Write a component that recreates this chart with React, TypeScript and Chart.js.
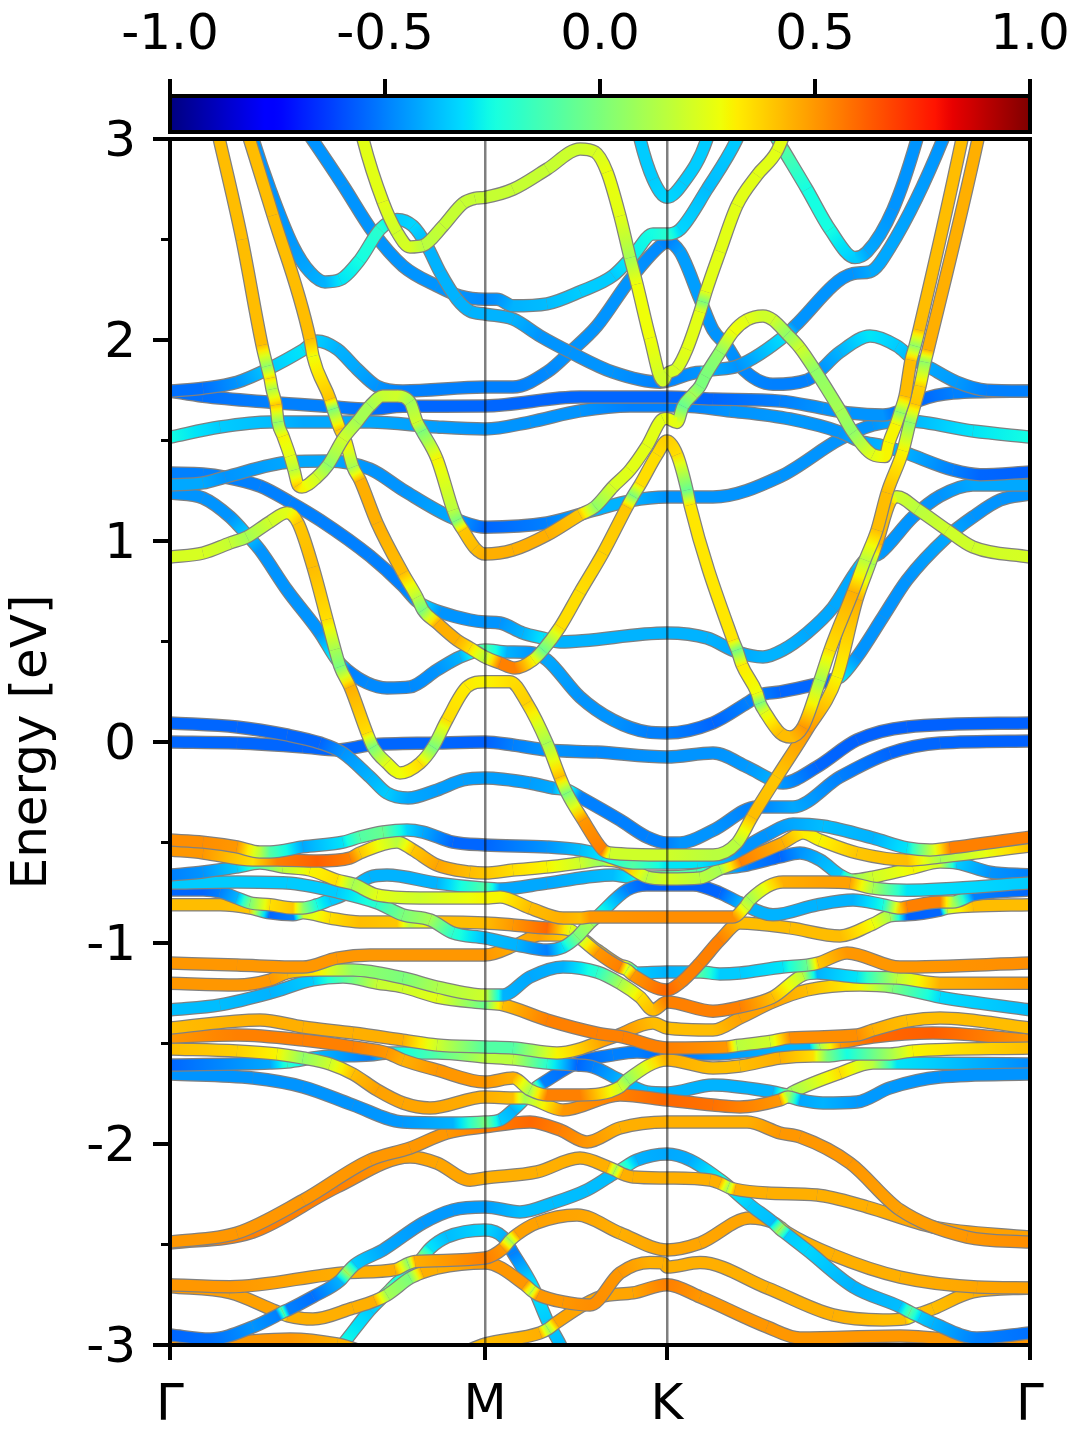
import { useEffect, useRef } from "react";
import { Chart, registerables } from "chart.js";

Chart.register(...registerables);

const FONT = "DejaVu Sans";

// k path coordinate (arbitrary units), high symmetry points
const kTicks = [0, 315, 497, 860];
const kLabels = ["Γ", "M", "K", "Γ"];
const colorbarTicks = [-1, -0.5, 0, 0.5, 1];

// every band is a list of [k, energy in eV, projection]
const bandC1 = [[46,3.07,.42],[72,2.5,.42],[92,1.975,.42],[97,1.87,.05],[100,1.81,.35],[102,1.756,.12],[106,1.677,.4],[108,1.592,.05],[113,1.522,.3],[120,1.423,.25],[124,1.353,.15],[128,1.279,.38],[132,1.269,.3],[147,1.318,.2],[158,1.378,.05],[173,1.507,.2],[187,1.592,.1],[200,1.672,.1],[213,1.721,.18],[227,1.721,.2],[240,1.691,.1],[247,1.592,.2],[252,1.547,0],[267,1.408,.3],[283,1.154,.15],[287,1.104,0],[293,1.055,.4],[305,.965,.42],[315,.935,.45],[343,.955,.45],[377,1.03,.45],[410,1.13,.4],[425,1.17,.05],[443,1.27,.22],[460,1.353,.25],[477,1.473,.25],[493,1.607,.25],[497,1.61,.28],[507,1.59,.25],[513,1.67,-.05],[523,1.73,.1],[530,1.77,0],[535,1.82,0],[550,1.94,.05],[563,2.04,.28],[577,2.1,.25],[593,2.12,.2],[603,2.1,.2],[617,2.03,.05],[630,1.96,.2],[645,1.85,.05],[670,1.65,.1],[683,1.54,.05],[703,1.43,.25],[715,1.42,.3],[719,1.49,.3],[726,1.58,.3],[730,1.64,.05],[735,1.72,.42],[741,1.9,.42],[745,1.97,.05],[749,2.05,.42],[792,3,.42],[796,3.1,.42]];
const bandC2 = [[75,3.07,.42],[103,2.62,.42],[140,2.005,.42],[143,1.92,.28],[160,1.706,.4],[163,1.657,0],[170,1.557,.4],[175,1.507,.35],[183,1.368,.1],[190,1.303,.45],[207,1.09,.45],[233,.84,.42],[247,.72,.15],[253,.657,0],[267,.592,.45],[287,.507,.45],[300,.468,.35],[315,.423,.15],[330,.393,.55],[345,.368,.55],[363,.408,.3],[373,.458,-.05],[390,.572,.35],[410,.746,.35],[433,.94,.38],[457,1.17,.4],[463,1.224,0],[470,1.28,.35],[487,1.43,.35],[497,1.497,.38],[507,1.43,.35],[517,1.254,-.05],[520,1.18,.33],[563,.507,.33],[567,.458,-.02],[572,.383,.32],[587,.244,.28],[590,.194,0],[595,.149,.25],[610,.045,.42],[620,.025,.42],[633,.075,.5],[650,.308,.1],[660,.458,.35],[683,.746,.45],[695,.905,.15],[707,1.055,.42],[717,1.239,.42],[733,1.45,.3],[740,1.59,.05],[745,1.68,.4],[750,1.77,.38],[755,1.89,.05],[758,1.95,.45],[808,3,.45],[812,3.1,.45]];
const bandC3 = [[0,.92,.22],[33,.94,.22],[60,.99,.18],[77,1.02,.1],[100,1.095,.2],[117,1.14,.25],[128,1.09,.4],[143,.87,.42],[157,.61,.35],[165,.46,.1],[170,.375,0],[180,.274,.45],[197,.045,.35],[203,-.025,0],[217,-.105,.25],[230,-.154,.28],[250,-.105,.35],[263,-.025,0],[277,.11,.35],[297,.274,.32],[315,.3,.3],[340,.3,.35],[357,.194,.38],[377,-.005,.1],[390,-.174,.42],[397,-.254,0],[413,-.388,.5],[433,-.537,.55],[440,-.552,.2],[497,-.562,.2],[543,-.562,.15],[567,-.502,.15],[582,-.373,.42],[607,-.174,.4],[637,.06,.5],[667,.323,.3],[687,.71,.45],[700,.89,.1],[707,.99,.45],[720,1.194,.4],[727,1.22,.2],[747,1.16,.15],[777,1.055,.2],[803,.97,.2],[860,.92,.22]];
const bandC4 = [[79,3.07,-.46],[83,3,-.46],[100,2.75,-.46],[123,2.468,-.45],[140,2.338,-.42],[155,2.289,-.4],[170,2.3,-.3],[190,2.4,-.25],[210,2.55,-.2],[227,2.6,-.35],[243,2.567,-.33],[257,2.468,-.4],[270,2.338,-.4],[287,2.203,-.4],[300,2.144,-.4],[315,2.129,-.4],[343,2.104,-.4],[370,2.02,-.46],[400,1.94,-.46],[443,1.84,-.46],[490,1.79,-.5],[530,1.84,-.46],[533,1.84,-.1],[540,1.85,-.42],[567,1.87,-.46],[617,2.03,-.3],[625,2.07,-.46],[683,2.33,-.46],[700,2.34,-.42],[720,2.46,-.42],[773,3,-.46],[780,3.1,-.46]];
const bandC5 = [[128,3.1,-.46],[142,3,-.46],[173,2.77,-.46],[203,2.537,-.46],[233,2.368,-.46],[267,2.269,-.46],[290,2.219,-.46],[315,2.203,-.48],[327,2.203,-.46],[343,2.17,-.4],[377,2.18,-.38],[410,2.24,-.35],[443,2.32,-.35],[463,2.42,-.28],[483,2.527,-.25],[497,2.527,-.2],[510,2.55,-.33],[537,2.75,-.38],[567,3,-.35],[575,3.1,-.35]];
const bandC6 = [[0,1.746,-.53],[33,1.76,-.53],[67,1.79,-.46],[100,1.86,-.35],[133,1.95,-.3],[147,1.995,-.35],[167,1.955,-.4],[187,1.856,-.42],[207,1.77,-.46],[233,1.746,-.5],[315,1.766,-.5],[343,1.766,-.5],[377,1.84,-.48],[400,1.94,-.46],[427,2.07,-.46],[460,2.3,-.46],[490,2.468,-.48],[497,2.488,-.5],[510,2.438,-.44],[530,2.203,-.44],[543,2.05,-.46],[557,1.97,-.46],[570,1.87,-.48],[603,1.78,-.5],[637,1.8,-.5],[670,1.94,-.4],[700,2.02,-.3],[727,1.97,-.35],[743,1.905,-.4],[757,1.87,-.42],[787,1.79,-.45],[817,1.75,-.5],[860,1.746,-.5]];
const bandC7 = [[466,3.1,-.35],[470,3,-.35],[483,2.8,-.35],[497,2.71,-.33],[513,2.78,-.35],[537,3,-.35],[542,3.1,-.35]];
const bandC8 = [[190,3.07,.25],[193,3,.25],[213,2.687,.25],[227,2.537,.2],[240,2.463,.22],[253,2.47,.15],[273,2.567,.18],[293,2.68,.18],[305,2.705,.18],[315,2.71,.18],[343,2.75,.18],[377,2.85,.18],[410,2.95,.2],[425,2.935,.22],[437,2.836,.27],[450,2.617,.25],[460,2.41,.1],[467,2.278,.28],[480,2.01,.28],[493,1.796,.2],[497,1.83,.2],[507,1.86,.22],[517,1.955,.25],[530,2.14,.25],[533,2.19,0],[536,2.24,.25],[550,2.44,.25],[567,2.67,.25],[587,2.82,.25],[607,2.94,.25],[620,3.1,.25]];
const bandC9 = [[595,3.1,-.25],[613,2.95,-.1],[637,2.75,-.25],[660,2.55,-.25],[685,2.41,-.35],[697,2.438,-.42],[723,2.65,-.46],[747,3,-.46],[752,3.1,-.46]];
const bandC10 = [[0,1.746,-.53],[33,1.72,-.53],[100,1.69,-.5],[157,1.67,-.5],[200,1.656,-.53],[233,1.67,-.55],[315,1.672,-.55],[410,1.716,-.55],[497,1.716,-.55],[543,1.706,-.55],[610,1.696,-.5],[653,1.66,-.46],[680,1.637,-.46],[713,1.627,-.46],[730,1.647,-.55],[750,1.7,-.55],[783,1.736,-.5],[860,1.746,-.5]];
const bandC11 = [[0,1.517,-.25],[50,1.567,-.35],[100,1.592,-.38],[133,1.592,-.42],[200,1.592,-.42],[267,1.567,-.44],[315,1.557,-.46],[360,1.592,-.46],[410,1.647,-.46],[460,1.672,-.5],[510,1.672,-.5],[560,1.647,-.46],[620,1.607,-.45],[670,1.542,-.46],[690,1.497,-.42],[713,1.473,-.4],[733,1.443,-.4],[783,1.353,-.5],[810,1.33,-.55],[860,1.343,-.56]];
const bandC13 = [[0,1.279,-.42],[33,1.289,-.42],[55,1.318,-.46],[120,1.393,-.42],[157,1.398,-.42],[200,1.358,-.46],[233,1.254,-.46],[283,1.114,-.42],[315,1.069,-.55],[377,1.09,-.5],[425,1.154,-.4],[460,1.2,-.4],[497,1.219,-.46],[543,1.219,-.46],[610,1.32,-.46],[670,1.507,-.46],[703,1.577,-.46],[737,1.597,-.4],[803,1.547,-.3],[860,1.517,-.25]];
const bandC14 = [[0,1.338,-.5],[33,1.333,-.5],[55,1.318,-.5],[90,1.273,-.5],[120,1.194,-.5],[150,1.104,-.5],[200,.925,-.5],[233,.776,-.5],[247,.7,-.45],[250,.69,-.3],[270,.647,-.46],[300,.607,-.46],[315,.597,-.46],[330,.592,-.46],[353,.542,-.4],[373,.517,-.3],[390,.498,-.4],[497,.542,-.4],[537,.517,-.4],[567,.448,-.42],[593,.423,-.4],[613,.458,-.4],[637,.542,-.42],[663,.67,-.42],[685,.84,-.42],[695,.905,-.3],[710,.94,-.45],[743,1.12,-.46],[770,1.224,-.46],[803,1.279,-.42],[860,1.279,-.42]];
const bandC15 = [[0,1.239,-.46],[33,1.214,-.46],[60,1.12,-.46],[77,1.03,-.35],[90,.955,-.46],[117,.756,-.46],[150,.542,-.46],[167,.408,-.25],[177,.358,-.5],[197,.294,-.48],[217,.269,-.48],[240,.274,-.48],[267,.358,-.46],[290,.423,-.4],[315,.458,-.1],[337,.448,-.4],[363,.443,-.46],[377,.408,-.42],[410,.224,-.46],[443,.109,-.46],[477,.05,-.5],[497,.045,-.5],[543,.095,-.55],[577,.194,-.5],[590,.234,-.5],[610,.249,-.55],[643,.284,-.55],[660,.308,-.55],[670,.323,-.3],[687,.423,-.46],[713,.622,-.46],[737,.806,-.46],[777,1.02,-.42],[803,1.12,-.46],[830,1.204,-.46],[860,1.234,-.46]];
const bandC16 = [[0,.095,-.55],[67,.075,-.55],[117,.035,-.55],[150,-.005,-.55],[173,-.055,-.46],[200,-.174,-.4],[217,-.254,-.35],[238,-.279,-.42],[267,-.239,-.44],[293,-.189,-.44],[315,-.179,-.44],[360,-.204,-.44],[383,-.229,-.42],[397,-.239,-.2],[410,-.274,-.5],[450,-.388,-.5],[477,-.473,-.5],[497,-.502,-.5],[510,-.502,-.46],[543,-.44,-.46],[587,-.323,-.5],[623,-.323,-.42],[670,-.174,-.5],[720,-.055,-.55],[770,-.005,-.55],[860,.005,-.56]];
const bandC17 = [[0,0,-.55],[67,-.005,-.55],[133,-.025,-.55],[167,-.04,-.55],[200,-.015,-.55],[267,-.005,-.55],[315,0,-.56],[343,-.015,-.5],[377,-.04,-.46],[427,-.05,-.48],[497,-.075,-.46],[543,-.055,-.46],[577,-.124,-.45],[607,-.199,-.4],[613,-.204,-.46],[647,-.124,-.55],[687,.01,-.56],[737,.075,-.56],[860,.095,-.56]];
const bandV1 = [[0,-.488,.52],[33,-.498,.52],[67,-.522,.5],[90,-.547,.15],[100,-.547,-.1],[133,-.522,-.42],[173,-.498,-.3],[190,-.473,-.1],[213,-.448,-.05],[237,-.438,-.33],[253,-.448,-.42],[283,-.498,-.55],[315,-.512,-.55],[377,-.522,-.46],[410,-.537,-.38],[433,-.562,-.3],[463,-.602,-.1],[497,-.602,-.3],[527,-.597,-.3],[560,-.562,-.42],[570,-.537,-.46],[597,-.462,-.46],[623,-.408,-.42],[653,-.418,-.38],[703,-.478,-.4],[737,-.527,-.3],[760,-.537,.15],[780,-.527,.55],[860,-.473,.55]];
const bandV2 = [[0,-.537,.5],[33,-.552,.5],[83,-.587,.35],[107,-.587,.55],[147,-.592,.62],[180,-.577,.55],[190,-.552,.4],[227,-.497,.15],[243,-.537,.4],[267,-.612,.47],[300,-.647,.42],[315,-.652,.4],[343,-.637,.35],[377,-.622,.3],[410,-.602,.2],[433,-.587,.05],[450,-.597,.55],[477,-.672,.15],[497,-.682,.22],[530,-.677,.15],[550,-.632,.1],[570,-.592,.55],[613,-.502,.45],[633,-.453,.32],[650,-.488,.3],[687,-.552,.4],[737,-.587,.42],[770,-.572,.1],[860,-.517,.42]];
const bandV3 = [[0,-.662,-.5],[33,-.647,-.46],[67,-.622,-.35],[90,-.602,-.1],[113,-.622,.15],[140,-.637,.3],[167,-.687,.35],[183,-.706,.1],[207,-.761,.25],[250,-.776,.2],[315,-.776,.3],[330,-.771,.3],[360,-.826,.42],[393,-.876,.45],[410,-.876,.42],[420,-.871,.5],[497,-.871,.52],[563,-.871,.52],[575,-.82,.2],[580,-.786,.1],[613,-.697,.45],[653,-.697,.48],[680,-.702,.48],[703,-.727,.1],[737,-.737,-.3],[860,-.702,-.35]];
const bandV4 = [[0,-.702,-.35],[67,-.697,-.35],[117,-.702,-.35],[167,-.746,-.35],[207,-.8,-.2],[233,-.86,0],[260,-.885,.1],[283,-.95,-.2],[315,-.975,-.38],[347,-1.01,-.4],[377,-1.035,-.5],[393,-1.02,-.3],[407,-.97,0],[420,-.9,.1],[427,-.87,-.2],[457,-.736,-.5],[477,-.711,-.56],[523,-.711,-.56],[550,-.751,-.55],[570,-.8,-.4],[603,-.86,-.4],[647,-.81,-.4],[683,-.786,-.4],[713,-.81,-.25],[730,-.826,.4],[737,-.82,.55],[770,-.796,.55],[783,-.796,.1],[803,-.761,-.5],[860,-.736,-.55]];
const bandV5 = [[0,-.736,-.55],[33,-.736,-.55],[50,-.746,-.5],[67,-.776,-.4],[80,-.8,0],[100,-.81,.35],[123,-.826,.4],[133,-.826,.05],[147,-.81,-.25],[160,-.786,-.35],[173,-.761,-.35],[200,-.672,-.4],[217,-.662,-.4],[267,-.702,-.4],[315,-.727,-.1],[330,-.731,-.42],[377,-.702,-.42],[443,-.662,-.38],[460,-.672,-.3],[483,-.672,-.1],[527,-.662,-.1],[543,-.637,-.3],[577,-.612,-.5],[610,-.572,-.55],[630,-.552,-.46],[650,-.587,-.4],[670,-.662,-.35],[683,-.687,.05],[703,-.672,.2],[743,-.627,.3],[770,-.597,.2],[787,-.602,-.35],[820,-.647,-.46],[860,-.662,-.5]];
const bandV6 = [[0,-.81,.42],[50,-.81,.42],[80,-.826,.4],[100,-.85,-.55],[123,-.86,-.5],[133,-.85,.2],[160,-.876,.35],[190,-.895,.42],[227,-.895,.4],[240,-.895,.15],[270,-.895,.42],[315,-.9,.42],[343,-.91,.5],[377,-.925,.6],[400,-.935,.25],[410,-.975,.15],[427,-1.045,.5],[450,-1.12,.55],[457,-1.134,.2],[463,-1.159,.5],[497,-1.234,.6],[510,-1.199,.55],[530,-1.1,.55],[550,-.985,.55],[570,-.9,.42],[620,-.925,.42],[670,-.965,.42],[703,-.905,.28],[720,-.865,.1],[737,-.86,-.56],[770,-.836,-.55],[777,-.826,.2],[803,-.816,.42],[860,-.81,.42]];
const bandV7 = [[0,-1.1,.5],[67,-1.11,.5],[133,-1.12,.5],[167,-1.075,.5],[200,-1.06,.5],[315,-1.06,.5],[348,-1.005,.45],[370,-.96,.48],[403,-.96,.35],[427,-1.035,.35],[450,-1.11,.5],[457,-1.12,.1],[467,-1.149,-.35],[497,-1.144,-.4],[520,-1.144,-.38],[530,-1.144,-.1],[550,-1.154,-.35],[570,-1.149,-.35],[613,-1.119,-.3],[637,-1.11,-.05],[648,-1.1,.4],[677,-1.05,.5],[730,-1.12,.5],[860,-1.1,.52]];
const bandV8 = [[0,-1.2,.5],[67,-1.209,.5],[100,-1.184,.5],[117,-1.149,.45],[150,-1.134,.3],[183,-1.134,.05],[233,-1.174,0],[267,-1.219,.12],[315,-1.259,.2],[333,-1.259,-.4],[360,-1.169,-.42],[393,-1.119,-.4],[427,-1.144,-.2],[450,-1.2,.1],[470,-1.269,.35],[483,-1.333,.42],[497,-1.294,.55],[543,-1.339,.55],[570,-1.318,.55],[603,-1.269,.42],[633,-1.159,.15],[647,-1.149,-.4],[687,-1.169,-.3],[727,-1.174,.15],[770,-1.2,.45],[860,-1.2,.5]];
const bandV9 = [[0,-1.333,-.38],[50,-1.308,-.38],[100,-1.249,-.4],[143,-1.184,-.35],[173,-1.169,-.1],[207,-1.199,.18],[233,-1.219,.2],[267,-1.269,.25],[315,-1.299,-.05],[333,-1.308,.42],[377,-1.383,.55],[427,-1.448,.55],[453,-1.468,.55],[497,-1.522,.55],[557,-1.517,.5],[567,-1.51,.15],[600,-1.49,.2],[620,-1.472,.52],[687,-1.458,.52],[703,-1.433,.45],[737,-1.388,.42],[770,-1.373,.42],[860,-1.423,.42]];
const bandA = [[0,-1.423,.42],[90,-1.383,.45],[133,-1.418,.45],[183,-1.448,.45],[233,-1.483,.45],[267,-1.507,.2],[315,-1.517,-.1],[343,-1.522,-.1],[387,-1.547,.3],[443,-1.468,.52],[483,-1.398,.42],[497,-1.423,.42],[543,-1.433,.42],[570,-1.373,.48],[603,-1.293,.48],[637,-1.234,.42],[690,-1.209,.3],[723,-1.219,0],[770,-1.269,-.32],[860,-1.333,-.38]];
const bandB = [[0,-1.468,.5],[67,-1.458,.55],[133,-1.483,.55],[183,-1.517,.55],[217,-1.547,.5],[233,-1.582,.45],[267,-1.632,.5],[315,-1.692,.5],[343,-1.672,.45],[360,-1.731,.1],[377,-1.756,.55],[410,-1.756,.55],[450,-1.716,.2],[457,-1.682,.05],[497,-1.582,.45],[543,-1.622,.42],[570,-1.612,.42],[610,-1.572,.45],[643,-1.562,.35],[657,-1.562,0],[677,-1.552,-.25],[720,-1.552,.1],[743,-1.537,.3],[860,-1.522,.42]];
const bandC = [[0,-1.527,.42],[67,-1.537,.38],[107,-1.552,.3],[133,-1.572,.05],[160,-1.602,.2],[183,-1.652,.42],[207,-1.731,.48],[233,-1.796,.47],[260,-1.821,.47],[315,-1.766,.45],[343,-1.771,.42],[355,-1.771,.1],[393,-1.831,.5],[450,-1.756,.55],[497,-1.781,.6],[543,-1.806,.58],[570,-1.816,.55],[610,-1.781,.5],[618,-1.766,.1],[630,-1.781,-.42],[653,-1.796,-.4],[687,-1.791,-.45],[720,-1.721,-.45],[770,-1.667,-.46],[860,-1.652,-.46]];
const bandD = [[0,-1.607,-.55],[100,-1.597,-.42],[117,-1.592,-.2],[150,-1.567,-.4],[200,-1.557,-.5],[220,-1.547,-.3],[267,-1.547,-.1],[315,-1.567,.15],[343,-1.577,.15],[377,-1.597,-.2],[407,-1.607,-.55],[423,-1.617,-.5],[450,-1.682,-.4],[477,-1.741,-.38],[497,-1.746,-.4],[543,-1.706,-.4],[603,-1.741,-.4],[618,-1.756,0],[623,-1.741,.1],[670,-1.647,.35],[703,-1.597,.15],[727,-1.597,-.3],[860,-1.602,-.48]];
const bandE = [[0,-1.652,-.46],[83,-1.672,-.46],[133,-1.716,-.46],[183,-1.806,-.46],[233,-1.891,-.45],[283,-1.896,-.4],[315,-1.891,0],[330,-1.881,-.35],[343,-1.831,-.4],[367,-1.716,-.1],[373,-1.696,-.5],[407,-1.597,-.55],[443,-1.557,-.5],[467,-1.542,-.5],[497,-1.552,-.55],[543,-1.552,-.46],[610,-1.527,-.4],[640,-1.527,-.4],[650,-1.517,.1],[670,-1.497,.5],[703,-1.468,.6],[763,-1.448,.62],[860,-1.483,.5]];
const bandV10 = [[0,-2.488,.5],[67,-2.443,.5],[133,-2.28,.5],[200,-2.08,.5],[240,-2.02,.5],[277,-1.945,.5],[315,-1.915,.55],[360,-1.89,.6],[390,-1.93,.55],[417,-1.99,.5],[450,-1.92,.45],[497,-1.891,.45],[577,-1.891,.45],[610,-1.945,.5],[630,-1.965,.5],[680,-2.095,.5],[730,-2.328,.48],[797,-2.463,.5],[860,-2.488,.52]];
const bandV11 = [[0,-2.493,.55],[83,-2.438,.55],[167,-2.214,.55],[240,-2.065,.48],[267,-2.095,.47],[300,-2.18,.47],[315,-2.169,.45],[367,-2.139,.45],[410,-2.07,.45],[438,-2.115,.45],[445,-2.13,.1],[452,-2.148,.45],[463,-2.164,.45],[497,-2.169,.45],[540,-2.179,.45],[550,-2.195,.45],[558,-2.214,.1],[565,-2.225,.45],[597,-2.244,.45],[647,-2.254,.45],[697,-2.313,.45],[763,-2.413,.48],[860,-2.463,.48]];
const bandV12 = [[0,-2.95,-.55],[40,-2.97,-.53],[83,-2.91,-.46],[108,-2.85,-.5],[113,-2.836,-.1],[118,-2.825,-.5],[143,-2.76,-.53],[170,-2.68,-.4],[177,-2.64,.1],[185,-2.6,-.35],[213,-2.527,-.42],[253,-2.393,-.45],[283,-2.328,-.45],[315,-2.313,-.44],[350,-2.338,-.38],[383,-2.293,-.38],[417,-2.229,-.38],[443,-2.15,-.38],[450,-2.13,-.1],[467,-2.08,-.4],[497,-2.05,-.42],[520,-2.08,-.41],[553,-2.189,-.25],[580,-2.303,-.35],[603,-2.39,-.38],[610,-2.423,.1],[617,-2.45,-.35],[637,-2.527,-.33],[683,-2.71,-.4],[730,-2.81,-.38],[740,-2.836,-.1],[750,-2.86,-.35],[763,-2.891,-.4],[807,-2.965,-.5],[860,-2.94,-.53]];
const bandV13 = [[0,-2.7,.5],[60,-2.71,.5],[177,-2.64,.45],[225,-2.625,.45],[238,-2.595,.05],[245,-2.585,.45],[315,-2.567,.55],[333,-2.52,.5],[340,-2.48,.1],[347,-2.45,.48],[367,-2.393,.48],[407,-2.353,.47],[450,-2.443,.45],[497,-2.527,.47],[530,-2.493,.47],[580,-2.368,.47],[603,-2.39,.47],[610,-2.413,.1],[617,-2.44,.45],[663,-2.552,.45],[730,-2.662,.45],[807,-2.711,.47],[860,-2.716,.48]];
const bandV14 = [[0,-2.71,.5],[60,-2.74,.48],[105,-2.83,.48],[113,-2.846,.2],[118,-2.855,.45],[143,-2.871,.45],[183,-2.816,.45],[205,-2.78,.45],[217,-2.751,.1],[240,-2.667,0],[252,-2.64,.45],[267,-2.617,.45],[315,-2.592,.5],[355,-2.7,.5],[362,-2.731,.15],[368,-2.75,.5],[393,-2.786,.5],[420,-2.801,.52],[450,-2.642,.5],[480,-2.59,.45],[493,-2.592,.45],[497,-2.612,.45],[530,-2.59,.45],[597,-2.716,.45],[663,-2.85,.45],[713,-2.875,.42],[735,-2.87,.42],[745,-2.85,.1],[752,-2.84,.42],[763,-2.82,.42],[803,-2.736,.45],[860,-2.716,.48]];
const bandV15 = [[0,-3.01,.5],[67,-2.985,.5],[120,-2.97,.5],[167,-2.995,.45],[230,-3.08,.45],[280,-3.06,.42],[315,-2.995,.42],[370,-2.94,.45],[378,-2.92,.1],[386,-2.89,.47],[430,-2.761,.47],[463,-2.741,.47],[497,-2.7,.55],[530,-2.761,.5],[597,-2.91,.5],[630,-2.965,.5],[730,-2.955,.5],[797,-2.98,.5],[860,-3,.5]];
const bandV16 = [[155,-3.1,-.25],[173,-2.995,-.25],[200,-2.826,-.35],[213,-2.76,-.3],[220,-2.726,0],[227,-2.69,-.25],[240,-2.642,-.25],[247,-2.6,-.25],[253,-2.562,0],[260,-2.52,-.3],[277,-2.463,-.38],[315,-2.428,-.33],[333,-2.463,-.4],[343,-2.542,-.5],[363,-2.711,-.3],[377,-2.876,-.35],[390,-2.995,-.38],[405,-3.15,-.38]];

const bands = [
  bandV16, bandV15, bandV14, bandV13, bandV12, bandV11, bandV10,
  bandE, bandD, bandC, bandB, bandA, bandV9, bandV8, bandV7, bandV6, bandV5, bandV4, bandV3, bandV2, bandV1,
  bandC17, bandC16, bandC15, bandC14, bandC13, bandC11, bandC10, bandC9, bandC7, bandC6, bandC5, bandC4,
  bandC8, bandC3, bandC2, bandC1,
];

// matplotlib jet
const jetR = [[0, 0], [0.35, 0], [0.66, 1], [0.89, 1], [1, 0.5]];
const jetG = [[0, 0], [0.125, 0], [0.375, 1], [0.64, 1], [0.91, 0], [1, 0]];
const jetB = [[0, 0.5], [0.11, 1], [0.34, 1], [0.65, 0], [1, 0]];

const channel = (table: number[][], t: number) => {
  for (let i = 1; i < table.length; i++) {
    if (t <= table[i][0]) {
      const [a, va] = table[i - 1];
      const [b, vb] = table[i];
      return va + ((vb - va) * (t - a)) / (b - a);
    }
  }
  return table[table.length - 1][1];
};

const jet = (p: number) => {
  const t = Math.min(1, Math.max(0, (p + 1) / 2));
  const c = [jetR, jetG, jetB].map((tb) => Math.round(channel(tb, t) * 255));
  return `rgb(${c[0]},${c[1]},${c[2]})`;
};

const bandDatasets = () => {
  const out: any[] = [];
  bands.forEach((band, i) => {
    const points = band.map(([x, y]) => ({ x, y }));
    out.push({
      data: points,
      showLine: true,
      pointRadius: 0,
      borderColor: "#808080",
      borderWidth: 13.5,
      cubicInterpolationMode: "monotone",
      clip: 0,
      order: -2 * i,
    });
    out.push({
      data: points,
      showLine: true,
      pointRadius: 0,
      borderColor: "#00a0ff",
      borderWidth: 11,
      cubicInterpolationMode: "monotone",
      clip: 0,
      order: -2 * i - 1,
      segment: {
        // colour runs between the two projections of a segment
        borderColor: (ctx: any) => {
          const c = ctx.chart.ctx as CanvasRenderingContext2D;
          const g = c.createLinearGradient(ctx.p0.x, ctx.p0.y, ctx.p1.x, ctx.p1.y);
          const a = band[ctx.p0DataIndex][2];
          const b = band[ctx.p1DataIndex][2];
          for (let s = 0; s <= 4; s++) g.addColorStop(s / 4, jet(a + ((b - a) * s) / 4));
          return g;
        },
        // gradients serialize to {}, this keeps the segments apart
        borderDashOffset: (ctx: any) => ctx.p0DataIndex,
      },
    });
  });
  return out;
};

const framePlugin = {
  id: "frame",
  afterDraw(chart: any) {
    const { ctx, chartArea: a, scales } = chart;
    ctx.save();
    ctx.strokeStyle = "#000";
    scales.y.ticks.forEach((t: any) => {
      const major = Number.isInteger(t.value);
      const py = scales.y.getPixelForValue(t.value);
      ctx.lineWidth = major ? 4 : 3;
      ctx.beginPath();
      ctx.moveTo(a.left - (major ? 17 : 9), py);
      ctx.lineTo(a.left, py);
      ctx.stroke();
    });
    kTicks.forEach((k) => {
      const px = scales.x.getPixelForValue(k);
      ctx.lineWidth = 4;
      ctx.beginPath();
      ctx.moveTo(px, a.bottom);
      ctx.lineTo(px, a.bottom + 15);
      ctx.stroke();
    });
    ctx.lineWidth = 4;
    ctx.strokeRect(a.left, a.top, a.right - a.left, a.bottom - a.top);
    ctx.restore();
  },
};

const colorbarPlugin = {
  id: "colorbar",
  afterDraw(chart: any) {
    const { ctx, chartArea: a, scales } = chart;
    ctx.save();
    const g = ctx.createLinearGradient(a.left, 0, a.right, 0);
    for (let s = 0; s <= 100; s++) g.addColorStop(s / 100, jet(-1 + s / 50));
    ctx.fillStyle = g;
    ctx.fillRect(a.left, a.top, a.right - a.left, a.bottom - a.top);
    ctx.strokeStyle = "#000";
    ctx.lineWidth = 4;
    ctx.strokeRect(a.left, a.top, a.right - a.left, a.bottom - a.top);
    colorbarTicks.forEach((v) => {
      const px = scales.x.getPixelForValue(v);
      ctx.beginPath();
      ctx.moveTo(px, a.top);
      ctx.lineTo(px, a.top - 17);
      ctx.stroke();
    });
    ctx.restore();
  },
};

export default function App() {
  const plotRef = useRef<HTMLCanvasElement | null>(null);
  const barRef = useRef<HTMLCanvasElement | null>(null);

  useEffect(() => {
    if (!plotRef.current || !barRef.current) return;
    const plot = new Chart(plotRef.current, {
      type: "scatter",
      data: { datasets: bandDatasets() },
      plugins: [framePlugin],
      options: {
        animation: false,
        responsive: false,
        devicePixelRatio: 1,
        layout: { padding: { top: 139, right: 50 } },
        plugins: { legend: { display: false }, tooltip: { enabled: false } },
        scales: {
          x: {
            type: "linear",
            min: 0,
            max: 860,
            afterFit: (s: any) => {
              s.height = 95;
              s.paddingLeft = 0;
              s.paddingRight = 0;
            },
            afterBuildTicks: (s: any) => { s.ticks = kTicks.map((value) => ({ value })); },
            grid: {
              z: 1,
              drawTicks: false,
              lineWidth: 2.5,
              color: (c: any) => (c.index === 1 || c.index === 2 ? "rgba(0,0,0,0.5)" : "transparent"),
            },
            border: { display: false },
            ticks: {
              autoSkip: false,
              maxRotation: 0,
              padding: 31,
              color: "#000",
              font: { family: FONT, size: 50 },
              callback: (_v: any, i: number) => kLabels[i],
            },
          },
          y: {
            type: "linear",
            min: -3,
            max: 3,
            afterFit: (s: any) => {
              s.width = 170;
              s.paddingTop = 0;
              s.paddingBottom = 0;
            },
            grid: { display: false, drawTicks: false },
            border: { display: false },
            title: {
              display: true,
              text: "Energy [eV]",
              color: "#000",
              font: { family: FONT, size: 50 },
              padding: { top: 3, bottom: 0 },
            },
            ticks: {
              stepSize: 0.5,
              padding: 34,
              labelOffset: 4,
              color: "#000",
              font: { family: FONT, size: 50 },
              callback: (v: any) => (Number.isInteger(v) ? String(v) : ""),
            },
          },
        },
      },
    } as any);

    const bar = new Chart(barRef.current, {
      type: "scatter",
      data: { datasets: [{ data: [] }] },
      plugins: [colorbarPlugin],
      options: {
        animation: false,
        responsive: false,
        devicePixelRatio: 1,
        layout: { padding: { left: 170, right: 50, bottom: 4 } },
        plugins: { legend: { display: false }, tooltip: { enabled: false } },
        scales: {
          x: {
            type: "linear",
            position: "top",
            min: -1,
            max: 1,
            afterFit: (s: any) => {
              s.height = 96;
              s.paddingLeft = 0;
              s.paddingRight = 0;
            },
            afterBuildTicks: (s: any) => { s.ticks = colorbarTicks.map((value) => ({ value })); },
            grid: { display: false, drawTicks: false },
            border: { display: false },
            ticks: {
              autoSkip: false,
              maxRotation: 0,
              padding: 30,
              color: "#000",
              font: { family: FONT, size: 50 },
              callback: (v: any) => Number(v).toFixed(1),
            },
          },
          y: { display: false },
        },
      },
    } as any);

    return () => {
      plot.destroy();
      bar.destroy();
    };
  }, []);

  return (
    <div style={{ position: "absolute", left: 0, top: 0, width: 1080, height: 1440 }}>
      <canvas ref={plotRef} width={1080} height={1440} style={{ position: "absolute", left: 0, top: 0 }} />
      <canvas ref={barRef} width={1080} height={136} style={{ position: "absolute", left: 0, top: 0 }} />
    </div>
  );
}
